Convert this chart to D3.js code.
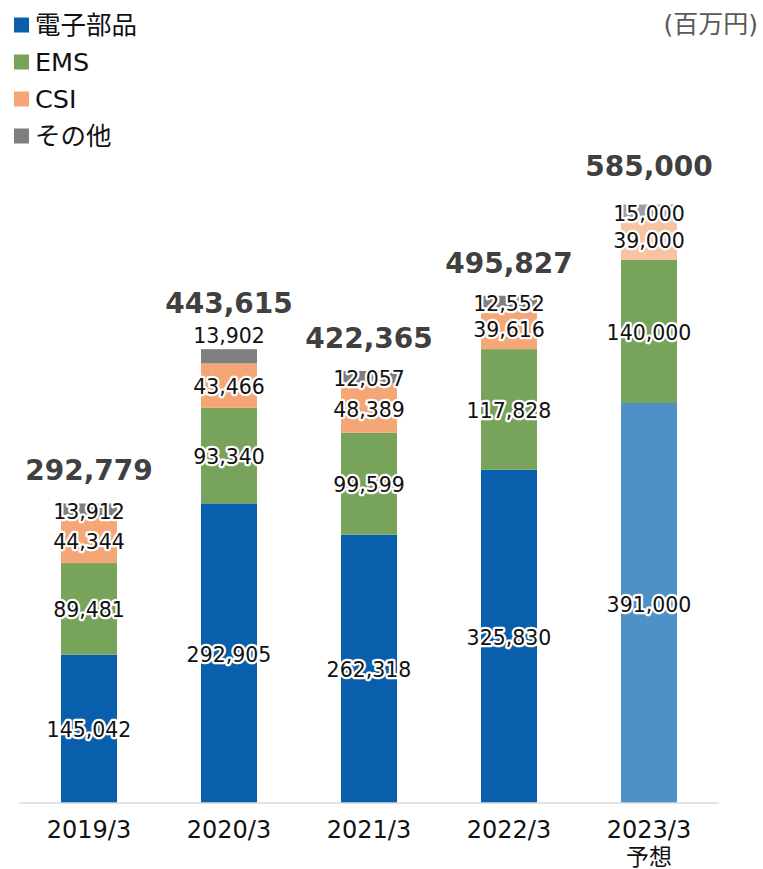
<!DOCTYPE html>
<html>
<head>
<meta charset="utf-8">
<script src="https://d3js.org/d3.v7.min.js"></script>
<style>
  body { margin: 0; background: #fff; }
  text { font-family: "DejaVu Sans", "Noto Sans CJK JP", sans-serif; }
  .seg-label { font-size: 20.5px; fill: #111; stroke: #fff; stroke-width: 4.5px; stroke-linejoin: round; paint-order: stroke; }
  .total { font-size: 28px; font-weight: bold; fill: #404040; }
  .tick-label { font-size: 24px; fill: #111; }
  .legend text { font-size: 25.5px; fill: #111; }
</style>
</head>
<body>
<script>
// data
const categories = ["2019/3", "2020/3", "2021/3", "2022/3", "2023/3"];
const subLabels = ["", "", "", "", "予想"];
const seriesNames = ["電子部品", "EMS", "CSI", "その他"];
const electronic = [145042, 292905, 262318, 325830, 391000];
const ems = [89481, 93340, 99599, 117828, 140000];
const csi = [44344, 43466, 48389, 39616, 39000];
const other = [13912, 13902, 12057, 12552, 15000];
const totals = [292779, 443615, 422365, 495827, 585000];

const colors = ["#0A5FAD", "#77A35A", "#F4A677", "#7F7F7F"];
const forecastColors = ["#4E91C6", "#77A35A", "#F8C3A2", "#9E9E9E"];
const forecastCat = "2023/3";
const liftedOther = new Set(["2020/3"]); // その他 label sits above the bar here

const w = 763, h = 869;
const svg = d3.select("body").append("svg")
  .attr("width", w)
  .attr("height", h);

const rows = categories.map((c, i) => ({
  cat: c,
  "電子部品": electronic[i],
  "EMS": ems[i],
  "CSI": csi[i],
  "その他": other[i]
}));

const stacked = d3.stack().keys(seriesNames)(rows);

const x = d3.scaleBand()
  .domain(categories)
  .range([19, 719])
  .paddingInner(0.6)
  .paddingOuter(0.3);

const y = d3.scaleLinear()
  .domain([0, 600000])
  .range([803, 803 - 600000 * 0.001023]);

const fmt = d3.format(",");

// bars
stacked.forEach((layer, k) => {
  svg.append("g").selectAll("rect")
    .data(layer)
    .enter()
    .append("rect")
    .attr("x", d => x(d.data.cat))
    .attr("y", d => y(d[1]))
    .attr("width", x.bandwidth())
    .attr("height", d => y(d[0]) - y(d[1]))
    .attr("fill", d => d.data.cat === forecastCat ? forecastColors[k] : colors[k]);
});

// axis line
svg.append("line")
  .attr("x1", 19).attr("x2", 719)
  .attr("y1", y(0)).attr("y2", y(0))
  .attr("stroke", "#d9d9d9")
  .attr("stroke-width", 1.5);

// segment labels
stacked.forEach((layer, k) => {
  svg.append("g").selectAll("text")
    .data(layer)
    .enter()
    .append("text")
    .attr("class", "seg-label")
    .attr("x", d => x(d.data.cat) + x.bandwidth() / 2)
    .attr("y", d => {
      if (k === 3 && liftedOther.has(d.data.cat)) return y(d[1]) - 6;
      return (y(d[0]) + y(d[1])) / 2 + 8.5;
    })
    .attr("text-anchor", "middle")
    .text(d => fmt(d[1] - d[0]));
});

// totals
svg.append("g").selectAll("text")
  .data(categories)
  .enter()
  .append("text")
  .attr("class", "total")
  .attr("x", d => x(d) + x.bandwidth() / 2)
  .attr("y", (d, i) => {
    const top = y(d3.sum([electronic[i], ems[i], csi[i], other[i]]));
    let gap = 23;
    if (liftedOther.has(d)) gap = 36;
    if (d === forecastCat) gap = 29;
    return top - gap;
  })
  .attr("text-anchor", "middle")
  .text((d, i) => fmt(totals[i]));

// category labels
const ticks = svg.append("g").selectAll("g")
  .data(categories)
  .enter()
  .append("g")
  .attr("transform", d => `translate(${x(d) + x.bandwidth() / 2},0)`);

ticks.append("text")
  .attr("class", "tick-label")
  .attr("y", 838)
  .attr("text-anchor", "middle")
  .text(d => d);

ticks.append("text")
  .attr("class", "tick-label")
  .attr("y", 865)
  .attr("text-anchor", "middle")
  .style("font-size", "23px")
  .text((d, i) => subLabels[i]);

// legend
const legend = svg.append("g").attr("class", "legend");
const item = legend.selectAll("g")
  .data(seriesNames)
  .enter()
  .append("g")
  .attr("transform", (d, i) => `translate(0,${25 + i * 37})`);

item.append("rect")
  .attr("x", 14).attr("y", -7.5)
  .attr("width", 15).attr("height", 15)
  .attr("fill", (d, i) => colors[i]);

item.append("text")
  .attr("x", 35)
  .attr("y", 9)
  .text(d => d);

// unit
svg.append("text")
  .attr("x", 758)
  .attr("y", 33)
  .attr("text-anchor", "end")
  .style("font-size", "25px")
  .attr("fill", "#595959")
  .text("(百万円)");
</script>
</body>
</html>
